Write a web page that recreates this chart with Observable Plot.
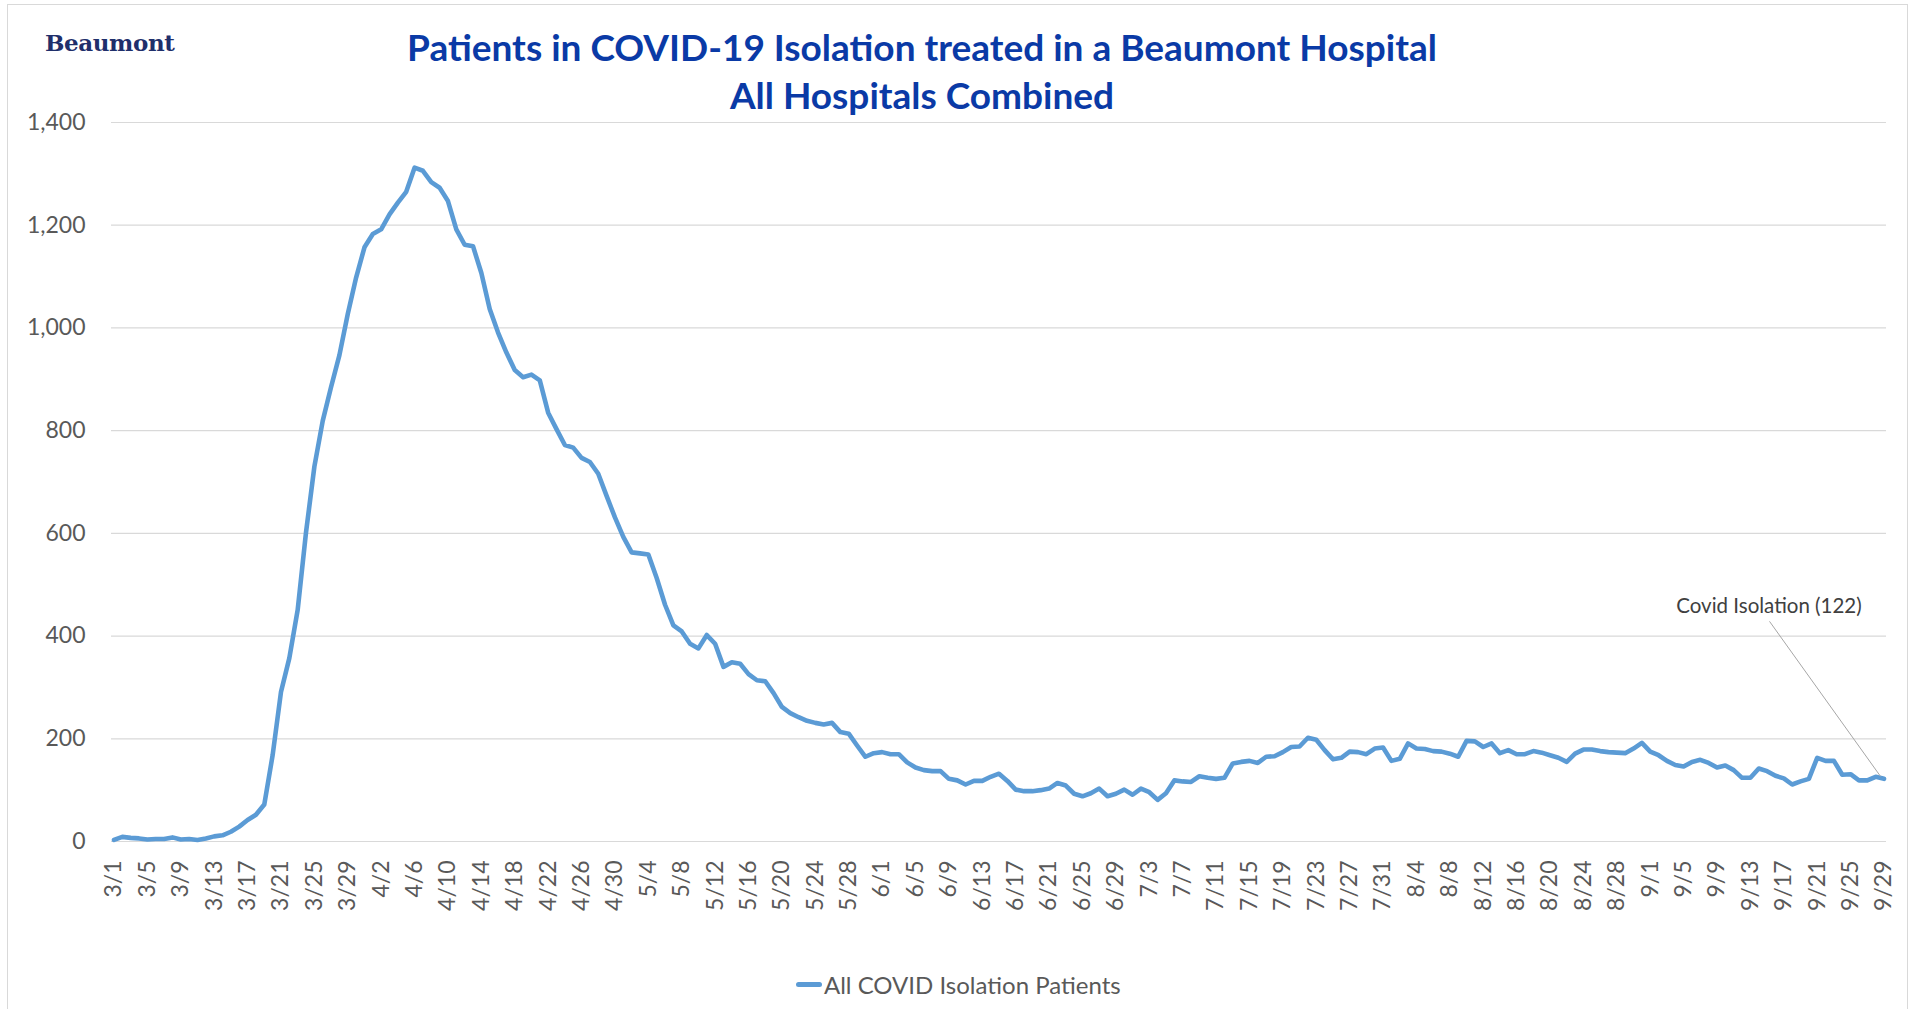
<!DOCTYPE html>
<html><head><meta charset="utf-8">
<script src="https://cdn.jsdelivr.net/npm/d3@7"></script>
<script src="https://cdn.jsdelivr.net/npm/@observablehq/plot@0.6"></script>
<style>
body{margin:0;background:#fff;}
#frame{position:relative;width:1917px;height:1009px;overflow:hidden;font-family:Lato,"Open Sans",sans-serif;background:#fff}
#border{position:absolute;left:7px;top:4px;width:1901px;height:1040px;border:1px solid #d9d9d9;box-sizing:border-box}
#logo{position:absolute;left:45px;top:27px;font-family:"DejaVu Serif",serif;font-weight:bold;font-size:23px;line-height:32px;color:#1f2f6b;letter-spacing:-0.4px}
#title{position:absolute;left:0;width:1844px;top:23px;text-align:center;font-weight:bold;font-size:37px;color:#0a3aa6;line-height:48px}
#chart{position:absolute;left:0;top:100px}
#legend{position:absolute;left:796px;top:968px;height:32px;display:flex;align-items:center;font-size:24px;color:#595959}
#legend .sw{width:26px;height:5px;border-radius:3px;background:#5b9bd5;margin-right:2px}
</style></head>
<body>
<div id="frame">
  <div id="border"></div>
  <div id="logo">Beaumont</div>
  <div id="title"></div>
  <div id="chart"></div>
  <div id="legend"><div class="sw"></div><span id="legtext"></span></div>
</div>
<script>
const startDate = "2020-03-01";
const patients = [
  3, 9, 7, 6, 4, 5, 5, 8, 4, 5, 3, 6, 10, 12, 19, 29, 42, 52, 72, 168,
  291, 357, 451, 602, 730, 819, 885, 947, 1027, 1098, 1157, 1183, 1192, 1221, 1244, 1265, 1312, 1306, 1284, 1273,
  1247, 1192, 1162, 1159, 1107, 1037, 991, 952, 918, 904, 909, 898, 835, 803, 772, 767, 747, 739, 716, 673,
  631, 593, 563, 561, 559, 513, 461, 421, 409, 385, 376, 402, 385, 340, 349, 346, 326, 314, 312, 289,
  262, 250, 242, 235, 231, 228, 231, 213, 210, 187, 165, 172, 174, 170, 170, 154, 144, 139, 137, 137,
  122, 119, 111, 118, 118, 126, 132, 118, 101, 98, 98, 100, 103, 114, 109, 93, 88, 94, 103, 88,
  93, 101, 91, 103, 96, 81, 94, 119, 117, 116, 127, 124, 122, 124, 152, 155, 157, 153, 165, 166,
  174, 184, 185, 202, 198, 178, 160, 163, 175, 174, 170, 181, 183, 157, 161, 191, 181, 180, 176, 175,
  171, 165, 196, 195, 184, 191, 172, 178, 170, 170, 176, 173, 168, 163, 155, 171, 179, 179, 176, 174,
  173, 172, 181, 192, 175, 168, 157, 149, 146, 155, 159, 153, 144, 148, 139, 124, 124, 142, 137, 128,
  123, 111, 117, 122, 163, 157, 157, 130, 131, 119, 119, 126, 122
];
const tickEvery = 4;
const yTicks = [0, 200, 400, 600, 800, 1000, 1200, 1400];
const titleLines = ["Patients in COVID-19 Isolation treated in a Beaumont Hospital", "All Hospitals Combined"];
const seriesName = "All COVID Isolation Patients";
const calloutLabel = "Covid Isolation (122)";

document.getElementById("title").innerHTML = titleLines.join("<br>");
document.getElementById("legtext").textContent = seriesName;

const start = new Date(startDate + "T00:00:00Z");
const data = patients.map((v, i) => ({date: new Date(+start + i * 864e5), value: v}));
const xTicks = data.filter((d, i) => i % tickEvery === 0).map(d => d.date);
const last = data[data.length - 1];

const chart = Plot.plot({
  width: 1917, height: 850,
  marginTop: 22, marginBottom: 109, marginLeft: 111, marginRight: 31,
  style: {fontFamily: "Lato, 'Open Sans', sans-serif", fontSize: "23px", background: "transparent", color: "#595959", overflow: "visible"},
  x: {type: "utc", domain: [data[0].date, last.date], inset: 2.5, ticks: xTicks, tickFormat: d3.utcFormat("%-m/%-d"),
      tickRotate: -90, tickSize: 0, tickPadding: 19, label: null},
  y: {domain: [0, 1400], ticks: yTicks, tickFormat: d3.format(","), tickSize: 0, tickPadding: 26, label: null},
  marks: [
    Plot.ruleY(yTicks, {stroke: "#d9d9d9", strokeWidth: 1.2}),
    Plot.line(data, {x: "date", y: "value", stroke: "#5b9bd5", strokeWidth: 4.6, strokeLinejoin: "round", strokeLinecap: "round"}),
    Plot.text([last], {x: "date", y: "value", text: () => calloutLabel, dx: -115, dy: -172, fontSize: 20.5, fill: "#404040", textAnchor: "middle"})
  ]
});
document.getElementById("chart").appendChild(chart);

// leader line from the callout label to the last data point
const px = chart.scale("x").apply(last.date), py = chart.scale("y").apply(last.value);
d3.select(chart).append("line")
  .attr("x1", px - 114).attr("y1", py - 157)
  .attr("x2", px - 3).attr("y2", py - 2)
  .attr("stroke", "#a6a6a6").attr("stroke-width", 1);
</script>
</body></html>
